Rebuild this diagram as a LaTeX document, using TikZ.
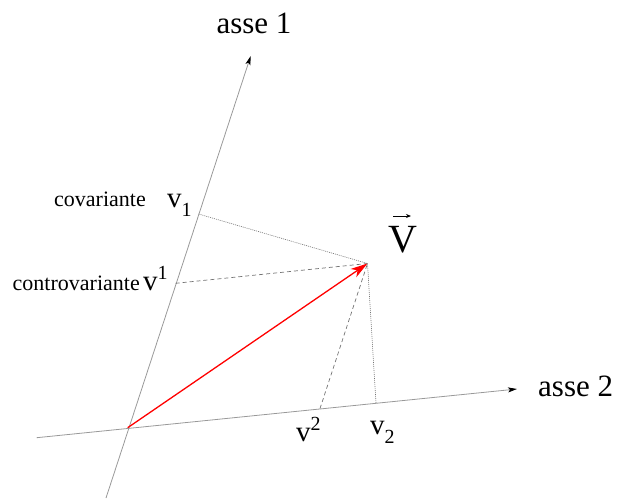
\documentclass[tikz,border=0pt]{standalone}
\usepackage{fontspec}
\setmainfont{Liberation Serif}
\usetikzlibrary{arrows.meta}
\newcommand{\mysub}[1]{\raisebox{-9.5pt}{\fontsize{20}{20}\selectfont #1}}
\newcommand{\mysup}[1]{\raisebox{10.5pt}{\fontsize{20}{20}\selectfont #1}}
\begin{document}
\begin{tikzpicture}[x=1pt,y=-1pt,
  axis/.style={draw=black!40,line width=0.8pt,-{Stealth[color=black,length=9pt,width=5pt,inset=2pt]}},
  proj/.style={draw=black!55,line width=0.7pt,dash pattern=on 4pt off 3pt},
  perp/.style={draw=black!55,line width=0.6pt,dash pattern=on 1pt off 1pt},
  vec/.style={draw=red,line width=1.3pt,-{Stealth[length=17pt,width=10pt,inset=5pt]}},
  axlabel/.style={inner sep=0pt,font=\fontsize{31}{36}\selectfont},
  small/.style={inner sep=0pt,font=\fontsize{22}{26}\selectfont},
  comp/.style={inner sep=0pt,font=\fontsize{29}{34}\selectfont}]
\useasboundingbox (0,0) rectangle (630,499);
\coordinate (O) at (127.7,427.7);
\coordinate (A1s) at (106,498);
\coordinate (A1t) at (250.7,56);
\coordinate (A2s) at (36.7,437.7);
\coordinate (A2t) at (517,389);
\coordinate (V) at (367.5,263.5);
\coordinate (c1) at (198.6,214);
\coordinate (k1) at (175.6,283.3);
\coordinate (k2) at (320,408.6);
\coordinate (c2) at (376,403);
\coordinate (va) at (393,216);
\coordinate (vb) at (411,216);
% axes
\draw[axis] (A1s) -- (A1t);
\draw[axis] (A2s) -- (A2t);
% projections
\draw[perp] (c1) -- (V);
\draw[perp] (c2) -- (V);
\draw[proj] (k1) -- (V);
\draw[proj] (k2) -- (V);
% vector
\draw[vec] (O) -- (V);
% labels
\node[axlabel,anchor=base] (l1) at (254,33) {asse 1};
\node[axlabel,anchor=base west] (l2) at (538,396) {asse 2};
\node[small,anchor=base west] (cov) at (54,206) {covariante};
\node[comp,anchor=base west] (lv1) at (167,207) {v\mysub{1}};
\node[small,anchor=base west] (contr) at (12.5,290.5) {controvariante};
\node[comp,anchor=base west] (lk1) at (143,290) {v\mysup{1}};
\node[comp,anchor=base west] (lk2) at (296,441) {v\mysup{2}};
\node[comp,anchor=base west] (lv2) at (370,434) {v\mysub{2}};
\node[inner sep=0pt,anchor=base,font=\fontsize{40}{46}\selectfont] (lV) at (402.5,252) {V};
\draw[line width=0.8pt,-{Stealth[length=5pt,width=4pt]}] (va) -- (vb);
\end{tikzpicture}
\end{document}
